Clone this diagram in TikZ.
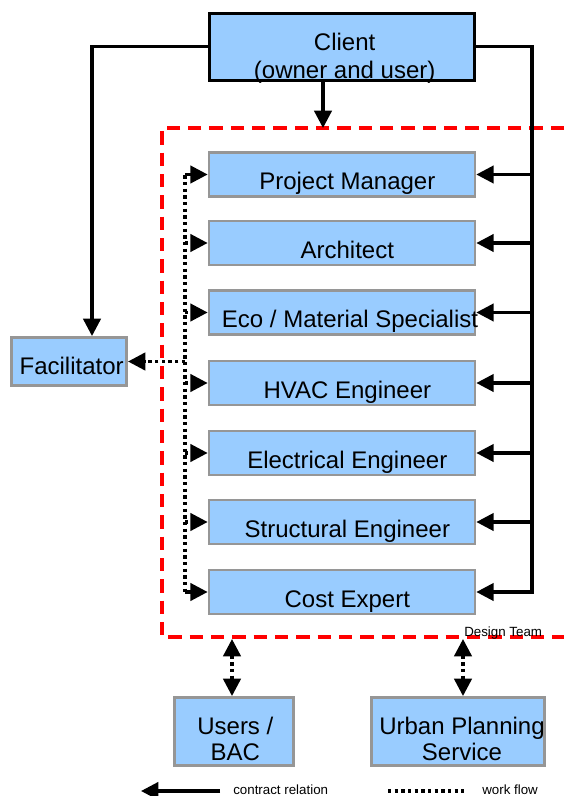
\documentclass[tikz,border=0pt]{standalone}
\usepackage{fontspec}
\setmainfont{Liberation Sans}
\usetikzlibrary{arrows.meta,calc}

\definecolor{boxblue}{RGB}{153,204,255}
\definecolor{boxgray}{RGB}{150,150,150}

\tikzset{
  Head/.tip={Triangle[length=13pt,width=13pt]},
  rolebox/.style={draw=boxgray, fill=boxblue, line width=2pt, inner sep=0pt},
  teambox/.style={rolebox, minimum width=199.5pt, minimum height=32.9pt},
  txt/.style={font=\fontsize{18}{20}\selectfont, text height=13pt, text depth=3.8pt, inner sep=0pt},
  teamtxt/.style={txt, xshift=4pt, yshift=-7pt},
  twotxt/.style={font=\fontsize{18}{19.5}\selectfont, align=center, inner sep=0pt},
  contractline/.style={line width=2.4pt},
  flowline/.style={line width=2.5pt, dash pattern=on 2.5pt off 2.5pt},
  teamframe/.style={draw=red, line width=3pt, dash pattern=on 10pt off 6pt},
  smalltext/.style={font=\fontsize{10}{12}\selectfont, inner sep=0pt}
}

\begin{document}
\begin{tikzpicture}[x=0.75pt,y=0.75pt,yscale=-1,xscale=1]
\useasboundingbox (0,0) rectangle (564,796);

% helper coordinates
\coordinate (leftx) at (92,0);
\coordinate (rightx) at (532,0);
\coordinate (flowx) at (185,0);
\coordinate (downx) at (323,0);
\coordinate (usersx) at (232,0);
\coordinate (urbanx) at (463,0);
\coordinate (teamTL) at (162,128);
\coordinate (teamBL) at (162,637);
\coordinate (teamTR) at (564,128);
\coordinate (teamBR) at (564,637);
\coordinate (teamlow) at (162,639);

% Design team frame
\draw[teamframe] (teamTR) -- (teamTL) -- (teamBL) -- (teamBR);

% Client
\node[rolebox, draw=black, minimum width=199pt, minimum height=50.2pt,
  label={[twotxt, font=\fontsize{18}{21}\selectfont, xshift=2pt, yshift=-8.5pt]center:Client\\(owner and user)}] (client) at (342,46.8) {};

% Design team members
\node[teambox, label={[teamtxt]center:Project Manager}] (pm) at (342,174.5) {};
\node[teambox, label={[teamtxt]center:Architect}] (arch) at (342,243) {};
\node[teambox, label={[teamtxt, xshift=2pt]center:Eco / Material Specialist}] (eco) at (342,312.5) {};
\node[teambox, label={[teamtxt]center:HVAC Engineer}] (hvac) at (342,383) {};
\node[teambox, label={[teamtxt]center:Electrical Engineer}] (elec) at (342,453) {};
\node[teambox, label={[teamtxt]center:Structural Engineer}] (struc) at (342,522) {};
\node[teambox, label={[teamtxt]center:Cost Expert}] (ce) at (342,592) {};

% Facilitator and outside parties
\node[rolebox, minimum width=86.5pt, minimum height=36.2pt,
  label={[txt, xshift=2pt, yshift=-4.8pt]center:Facilitator}] (fac) at (69,361.5) {};
\node[rolebox, minimum width=89.5pt, minimum height=51.2pt,
  label={[twotxt, xshift=1pt, yshift=-5.9pt]center:Users /\\BAC}] (users) at (234,731.5) {};
\node[rolebox, minimum width=130pt, minimum height=51.2pt,
  label={[twotxt, xshift=3pt, yshift=-5.9pt]center:Urban Planning\\Service}] (urban) at (458,731.5) {};

% contract relations
\draw[contractline,-Head] (client.west) -| (fac.north -| leftx);
\draw[contractline,-Head] (client.east) -| (ce.east -| rightx) -- (ce.east);
\foreach \n in {pm,arch,eco,hvac,elec,struc}
  \draw[contractline,-Head] (\n.east -| rightx) -- (\n.east);
\draw[contractline,-Head] (client.south -| downx) -- (teamTL -| downx);

% work flow
\draw[flowline] ($(pm.west -| flowx)+(6,0)$) -- (pm.west -| flowx) -- (ce.west -| flowx) -- ($(ce.west -| flowx)+(6,0)$);
\foreach \n in {pm,arch,eco,hvac,elec,struc,ce}
  \draw[flowline,-Head] (\n.west -| flowx) -- (\n.west);
\draw[flowline,-Head] (fac.east -| flowx) -- (fac.east);
\draw[flowline,Head-Head] (teamlow -| usersx) -- (users.north -| usersx);
\draw[flowline,Head-Head] (teamlow -| urbanx) -- (urban.north -| urbanx);

\node[smalltext, anchor=base west] (teamlabel) at (464,636.5) {Design Team};

% legend
\coordinate (contractA) at (220,791);
\coordinate (contractB) at (141,791);
\coordinate (flowA) at (388,791);
\coordinate (flowB) at (464,791);
\draw[contractline,-Head] (contractA) -- (contractB);
\node[smalltext, anchor=base west] (contractlabel) at (233,794.5) {contract relation};
\draw[flowline] (flowA) -- (flowB);
\node[smalltext, anchor=base west] (flowlabel) at (482,794.5) {work flow};

\end{tikzpicture}
\end{document}
